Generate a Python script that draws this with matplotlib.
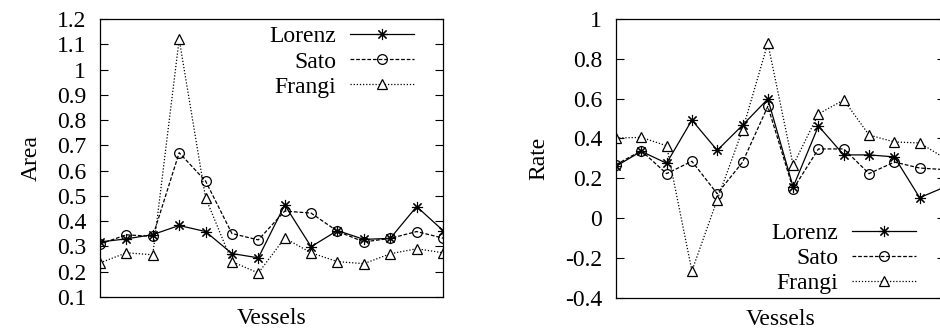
import numpy as np
import matplotlib
matplotlib.use('Agg')
import matplotlib.pyplot as plt

plt.rcParams['font.family'] = ['Liberation Serif', 'DejaVu Serif']
plt.rcParams['font.size'] = 17

# data (14 vessels)
vessels = np.arange(14)
area_lorenz = [0.318, 0.330, 0.347, 0.383, 0.359, 0.272, 0.255, 0.464, 0.299, 0.363, 0.328, 0.332, 0.458, 0.363]
area_sato = [0.310, 0.346, 0.340, 0.671, 0.559, 0.351, 0.326, 0.440, 0.432, 0.360, 0.318, 0.332, 0.359, 0.333]
area_frangi = [0.235, 0.275, 0.267, 1.120, 0.493, 0.240, 0.195, 0.333, 0.275, 0.240, 0.232, 0.271, 0.291, 0.275]

rate_lorenz = [0.260, 0.335, 0.275, 0.492, 0.340, 0.466, 0.598, 0.156, 0.462, 0.317, 0.317, 0.307, 0.102, 0.156]
rate_sato = [0.268, 0.338, 0.223, 0.285, 0.122, 0.280, 0.561, 0.146, 0.347, 0.347, 0.223, 0.281, 0.251, 0.243]
rate_frangi = [0.402, 0.405, 0.363, -0.266, 0.092, 0.442, 0.878, 0.265, 0.523, 0.593, 0.417, 0.382, 0.377, 0.300]

names = ['Lorenz', 'Sato', 'Frangi']

styles = [
    dict(color='black', lw=0.9, ls='-', marker=(8, 2, 0), ms=8, mew=0.8),
    dict(color='black', lw=0.9, ls=(0, (3, 1.5)), marker='o', ms=7, mfc='none', mew=0.9),
    dict(color='black', lw=0.9, ls=(0, (1, 1.5)), marker='^', ms=7, mfc='white', mew=0.9),
]

fig = plt.figure(figsize=(9.4, 3.31), dpi=100)
ax1 = fig.add_axes([0.1064, 0.1027, 0.3649, 0.8399])
ax2 = fig.add_axes([0.6553, 0.1010, 0.3500, 0.8416])


def style_axes(ax, ylim, yticks, ylabel):
    ax.set_xlim(vessels[0], vessels[-1])
    ax.set_ylim(*ylim)
    ax.set_yticks(yticks)
    ax.set_yticklabels([('%g' % t) for t in yticks])
    ax.set_xticks([])
    ax.tick_params(axis='y', direction='in', length=6, width=0.8, left=True, right=True, pad=10)
    for s in ax.spines.values():
        s.set_linewidth(0.9)
    ax.set_xlabel('Vessels', labelpad=8)
    ax.set_ylabel(ylabel, labelpad=11)


for series, name, st in zip([area_lorenz, area_sato, area_frangi], names, styles):
    ax1.plot(vessels, series, label=name, **st)
style_axes(ax1, (0.1, 1.2), np.round(np.arange(0.1, 1.21, 0.1), 1), 'Area')
ax1.legend(loc='upper right', bbox_to_anchor=(0.915, 0.975), frameon=False, markerfirst=False,
           borderpad=0, borderaxespad=0, handlelength=2.7, handletextpad=0.6, labelspacing=0.15)

for series, name, st in zip([rate_lorenz, rate_sato, rate_frangi], names, styles):
    ax2.plot(vessels, series, label=name, **st)
style_axes(ax2, (-0.4, 1.0), np.round(np.arange(-0.4, 1.01, 0.2), 1), 'Rate')
ax2.legend(loc='lower right', bbox_to_anchor=(0.912, 0.012), frameon=False, markerfirst=False,
           borderpad=0, borderaxespad=0, handlelength=2.7, handletextpad=0.6, labelspacing=0.15)

fig.savefig('out.png', dpi=100)
